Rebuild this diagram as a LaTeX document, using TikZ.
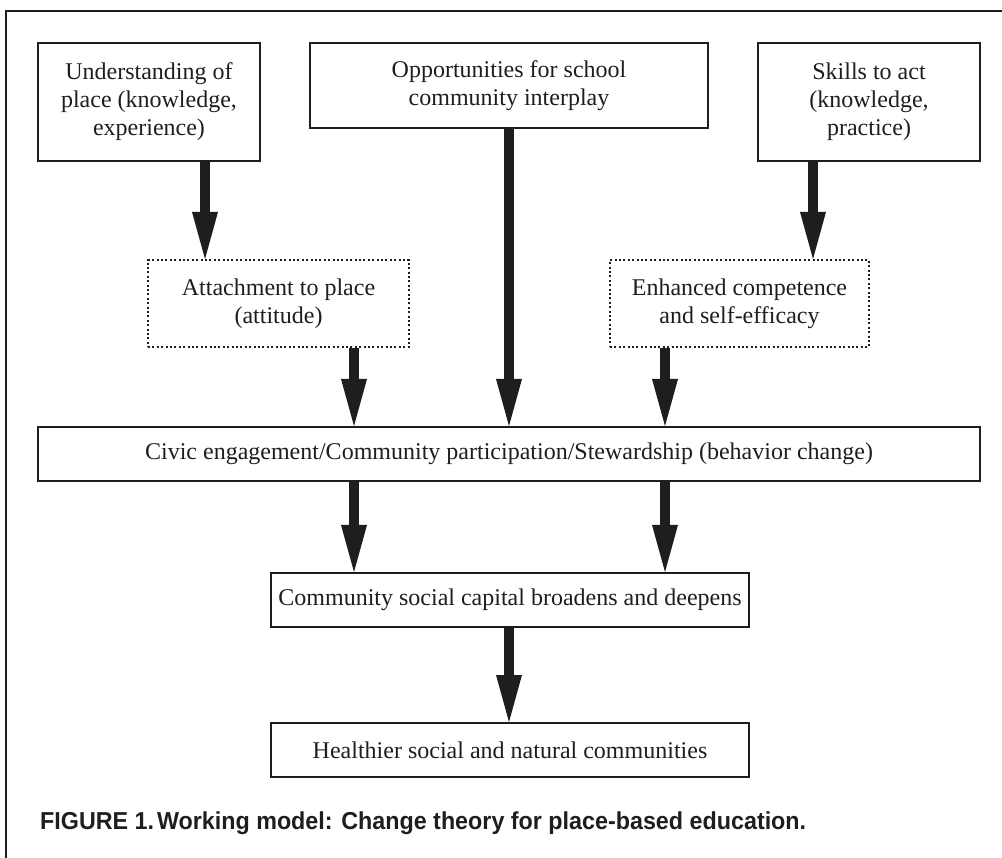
\documentclass[tikz,border=0pt]{standalone}
\usepackage{fontspec}
\setmainfont{Liberation Serif}
\setsansfont{Liberation Sans}
\usetikzlibrary{arrows.meta}
\definecolor{ink}{HTML}{1E1E1E}
\tikzset{
  box/.style={draw=ink, line width=2pt, inner sep=0pt, align=center, text=ink,
    font=\fontsize{24pt}{28pt}\selectfont},
  dotbox/.style={box, line width=2pt, dash pattern=on 2pt off 2.4pt},
  bigarrow/.style={draw=ink, line width=10pt,
    -{Triangle[width=26pt,length=47pt,line width=0pt]}},
  frameline/.style={draw=ink, line width=2.5pt}
}
\begin{document}
\begin{tikzpicture}[x=1pt,y=-1pt]
\useasboundingbox (0,0) rectangle (1002,858);
\draw[frameline] (6,880) -- (6,11) -- (1020,11);

\node[box, minimum width=222pt, minimum height=118pt] (und) at (149,102)
  {Understanding of\\place (knowledge,\\experience)};
\node[box, minimum width=398pt, minimum height=85pt] (opp) at (509,85.5)
  {Opportunities for school\\community interplay};
\node[box, minimum width=222pt, minimum height=118pt] (skl) at (869,102)
  {Skills to act\\(knowledge,\\practice)};
\node[dotbox, minimum width=261pt, minimum height=87pt] (att) at (278.5,303.5)
  {Attachment to place\\(attitude)};
\node[dotbox, minimum width=259pt, minimum height=87pt] (enh) at (739.5,303.5)
  {Enhanced competence\\and self-efficacy};
\node[box, minimum width=942pt, minimum height=54pt] (civ) at (509,454)
  {Civic engagement/Community participation/Stewardship (behavior change)};
\node[box, minimum width=478pt, minimum height=54pt] (com) at (510,600)
  {Community social capital broadens and deepens};
\node[box, minimum width=478pt, minimum height=54pt] (hea) at (510,750)
  {Healthier social and natural communities};

\node[anchor=base west, inner sep=0pt, text=ink] (cap) at (40,829)
  {\resizebox{766pt}{\height}{\sffamily\bfseries\fontsize{24.5pt}{28pt}\selectfont FIGURE 1.\kern3pt Working model: Change theory for place-based education.}};

\draw[bigarrow] (und.south -| 205,0) -- (att.north -| 205,0);
\draw[bigarrow] (opp.south -| 509,0) -- (civ.north -| 509,0);
\draw[bigarrow] (skl.south -| 813,0) -- (enh.north -| 813,0);
\draw[bigarrow] (att.south -| 354,0) -- (civ.north -| 354,0);
\draw[bigarrow] (enh.south -| 665,0) -- (civ.north -| 665,0);
\draw[bigarrow] (civ.south -| 354,0) -- (com.north -| 354,0);
\draw[bigarrow] (civ.south -| 665,0) -- (com.north -| 665,0);
\draw[bigarrow] (com.south -| 509,0) -- (hea.north -| 509,0);
\end{tikzpicture}
\end{document}
